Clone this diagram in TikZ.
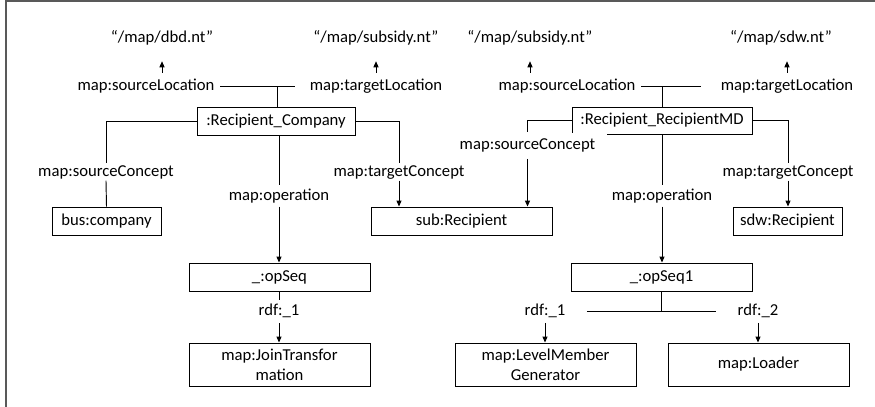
\documentclass[tikz,border=0pt]{standalone}
\usepackage{fontspec}
\setmainfont{Carlito}
\usetikzlibrary{arrows.meta}
\begin{document}
\begin{tikzpicture}[x=0.75pt,y=-0.75pt,
  every node/.style={font=\fontsize{12.5}{15}\selectfont},
  lbl/.style={text height=9.4pt, text depth=3.1pt, inner xsep=4pt, inner ysep=0pt},
  box/.style={draw=black, line width=0.7pt, minimum height=21pt, inner sep=0pt, align=center, text height=9.4pt, text depth=3.1pt},
  boxtwo/.style={draw=black, line width=0.7pt, minimum height=32.25pt, minimum width=135.75pt, inner sep=0pt, align=center},
  conn/.style={line width=0.7pt},
  arr/.style={line width=0.7pt, -{Triangle[length=4.5pt,width=3.8pt]}},
  frame/.style={draw=black!65, line width=1.1pt}]
\useasboundingbox (0,0) rectangle (875,407);
\draw[frame] (6,410) -- (6,1) -- (878,1);

% boxes
\node[box, minimum width=118.5pt] (rc) at (276,121) {:Recipient\_Company};
\node[box, minimum width=135pt, minimum height=20.25pt] (rmd) at (662,120.5) {:Recipient\_RecipientMD};
\node[box, minimum width=81.75pt] (bus) at (106.5,221) {bus:company};
\node[box, minimum width=135.75pt] (sub) at (461.5,221) {sub:Recipient};
\node[box, minimum width=81.75pt] (sdw) at (787.5,221) {sdw:Recipient};
\node[box, minimum width=135.75pt] (ops) at (279.5,277) {\_:opSeq};
\node[box, minimum width=135.75pt] (ops1) at (661.5,277) {\_:opSeq1};
\node[boxtwo] (jt) at (279.5,364.5) {map:JoinTransfor\\mation};
\node[boxtwo] (lmg) at (545.5,364.5) {map:LevelMember\\Generator};
\node[boxtwo] (ld) at (758.5,364.5) {map:Loader};

% location texts
\node[lbl, inner ysep=11pt] (q1) at (162,38) {“/map/dbd.nt”};
\node[lbl, inner ysep=11pt] (q2) at (376,38) {“/map/subsidy.nt”};
\node[lbl, inner ysep=11pt] (q3) at (530,38) {“/map/subsidy.nt”};
\node[lbl, inner ysep=11pt] (q4) at (781,38) {“/map/sdw.nt”};

% property labels
\node[lbl, inner ysep=3.5pt] (sl1) at (146,86) {map:sourceLocation};
\node[lbl, inner ysep=3.5pt] (tl1) at (376,86) {map:targetLocation};
\node[lbl, inner ysep=3.5pt] (sl2) at (567,86) {map:sourceLocation};
\node[lbl, inner ysep=3.5pt] (tl2) at (787,86) {map:targetLocation};
\node[lbl] (sc1) at (106,172) {map:sourceConcept};
\node[lbl] (tc1) at (399,172) {map:targetConcept};
\node[lbl, fill=white, inner xsep=9pt, inner ysep=3.5pt] (sc2) at (527.5,145.5) {map:sourceConcept};
\node[lbl] (tc2) at (788,172) {map:targetConcept};
\node[lbl, inner ysep=1.5pt] (op1) at (279,196) {map:operation};
\node[lbl, inner ysep=1.5pt] (op2) at (662,196) {map:operation};
\node[lbl, inner ysep=2.4pt] (r0) at (279,311.5) {rdf:\_1};
\node[lbl, inner ysep=2.4pt, inner xsep=16pt] (r1) at (545,311) {rdf:\_1};
\node[lbl, inner ysep=2.4pt, inner xsep=16pt] (r2) at (758,311) {rdf:\_2};

% left group
\draw[arr] (sl1.north -| q1.south) -- (q1.south);
\draw[arr] (tl1.north -| q2.south) -- (q2.south);
\draw[conn, shorten >=7.3pt] (sl1.east) -- (tl1.west);
\draw[conn] (rc.north -| 277,0) -- (277,86);
\draw[conn] (rc.west) -| (sc1.north);
\draw[conn] (sc1.south) -- (bus.north);
\draw[conn] (rc.east) -| (tc1.north);
\draw[arr] (tc1.south) -- (tc1.south |- sub.north);
\draw[conn] (rc.south -| op1.north) -- (op1.north);
\draw[arr] (op1.south) -- (op1.south |- ops.north);
\draw[conn] (ops.south -| r0.north) -- (r0.north);
\draw[arr] (r0.south) -- (r0.south |- jt.north);

% right group
\draw[arr] (sl2.north -| q3.south) -- (q3.south);
\draw[arr] (tl2.north) -- (tl2.north |- q4.south);
\draw[conn, shorten >=11pt] (sl2.east) -- (tl2.west);
\draw[conn] (rmd.north) -- (rmd.north |- sl2.east);
\draw[conn] (rmd.west) -| (sc2.north);
\draw[arr] (sc2.south) -- (sc2.south |- sub.north);
\draw[conn] (rmd.east) -| (tc2.north);
\draw[arr] (tc2.south) -- (tc2.south |- sdw.north);
\draw[conn] (rmd.south -| op2.north) -- (op2.north);
\draw[arr] (op2.south) -- (op2.south |- ops1.north);
\draw[conn] (ops1.south) -- (ops1.south |- r1.east);
\draw[conn] (r1.east) -- (r2.west);
\draw[arr] (r1.south) -- (r1.south |- lmg.north);
\draw[arr] (r2.south) -- (r2.south |- ld.north);
\end{tikzpicture}
\end{document}
